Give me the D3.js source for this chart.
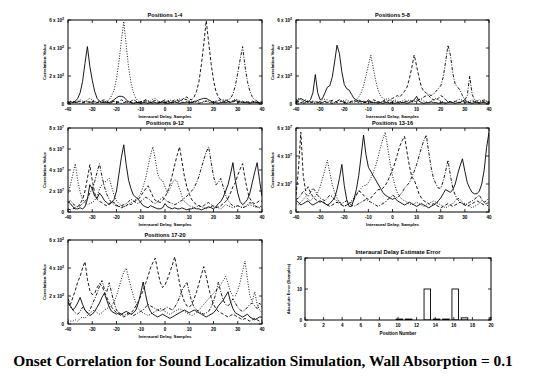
<!DOCTYPE html>
<html><head><meta charset="utf-8">
<script src="https://cdn.jsdelivr.net/npm/d3@7"></script>
<style>body{margin:0;background:#fff}svg{display:block}</style>
</head><body><svg id="c" width="537" height="382"></svg>
<script>
// ---------------- DATA ----------------
const lags = d3.range(-40, 41);
const lagTicks = [-40,-30,-20,-10,0,10,20,30,40];
const panelTitles = ["Positions 1-4","Positions 5-8","Positions 9-12","Positions 13-16","Positions 17-20"];
const panelYMax = [6,6,8,6,6];
const panelYTicks = [[0,2,4,6],[0,2,4,6],[0,2,4,6,8],[0,2,4,6],[0,2,4,6]];
const panelExp = ["2","2","7","7","2"];
const seriesNames = ["solid","dotted","dashed","dashdot"];

const p1Solid = [0.1,0.15,0.1,0.2, 0.4,0.8,1.6,2.9,4.1,2.7,1.7,0.9,0.4,0.2, 0.1,0.15,0.1,0.1,0.2,0.3, 0.45,0.55,0.55,0.5,0.3,
 0.15,0.1,0.05,0.1,0.1,0.05,0.1,0.1,0.05,0.1,0.15,0.1,0.05,0.1,0.1,
 0.1,0.05,0.1,0.1,0.15,0.1,0.05,0.1,0.1,0.15,0.1,0.1,0.2,0.2,0.3,0.35, 0.4,0.4,0.3,0.2,0.1,
 0.1,0.05,0.1,0.1,0.1,0.15,0.1,0.2,0.25,0.2,0.15,0.1,0.1,0.1,0.05,0.1,0.1,0.1,0.05,0.1];
const p1Dotted = [0.1,0.2,0.15,0.1,0.2,0.3,0.2,0.15,0.3,0.4,0.3,0.2,0.1,0.15,0.2,0.15,0.2,
 0.3,0.6,1.0,1.8,3.0,4.5,5.9,4.2,2.6,1.5,0.8,0.4,0.2,
 0.15,0.2,0.3,0.25,0.2,0.35,0.4,0.25,0.15,0.2,0.1,0.2,0.3,0.2,0.15,0.3,0.35,0.2,0.1,0.15,0.2,
 0.15,0.1,0.2,0.15,0.1,0.2,0.25,0.2,0.1,0.15,0.2,0.1,0.15,0.2,0.3,0.2,0.15,0.25,0.35,0.3,0.2,0.1,0.15,0.2,0.1,0.15,0.2,0.1,0.15,0.1];
const p1Dashed = [0.1,0.15,0.2,0.1,0.15,0.2,0.1,0.2,0.15,0.1, 0.2,0.15,0.1,0.2,0.25,0.3,0.2,0.1,0.15,0.2,
 0.1,0.2,0.3,0.2,0.15,0.1,0.2,0.3,0.2,0.1, 0.15,0.2,0.3,0.2,0.1,0.2,0.25,0.15,0.1,0.2,
 0.3,0.2,0.15,0.2,0.3,0.25,0.2,0.3,0.45,0.5, 0.35,
 0.3,0.5,0.9,1.6,2.8,4.3,5.95,4.4,2.9,1.7,0.9,0.5,0.3,
 0.2,0.15,0.2,0.1,0.15,0.2,0.1,0.15,0.2,0.1,0.15,0.1,0.2,0.15,0.1,0.1,0.15];
const p1DashDot = [0.1,0.05,0.1,0.15,0.1,0.05,0.1,0.1,0.2,0.15, 0.1,0.05,0.1,0.1,0.15,0.1,0.1,0.05,0.1,0.2,
 0.15,0.1,0.05,0.1,0.15,0.2,0.1,0.05,0.1,0.1, 0.15,0.1,0.2,0.15,0.1,0.05,0.1,0.1,0.15,0.2,
 0.1,0.1,0.05,0.1,0.15,0.1,0.2,0.3,0.35,0.3, 0.2,0.1,0.15,0.1,0.05,0.1,0.15,0.2,0.1,0.1,
 0.15,0.2,0.25,0.3,0.3,0.25,0.3,
 0.4,0.7,1.3,2.2,3.2,4.1,2.7,1.6,0.9,0.5,0.3, 0.2,0.1,0.15];

const p2Solid = [0.2,0.3,0.4,0.3,0.2,0.15, 0.3,0.8,2.1,0.8,0.3,
 0.4,0.8,1.2,1.3,1.9,3.0,4.2,3.6,2.3,1.4,1.1,1.0,0.7,0.4,
 0.3,0.2,0.15,0.2,0.1,0.3,0.15,0.1,0.1,0.15,0.1,0.05,0.1,0.1,0.05,
 0.1,0.05,0.1,0.15,0.1,0.1,0.05,0.1,0.2,0.3, 0.55,0.2,0.1,0.05,0.1,0.1,0.15,0.1,0.1,0.05,
 0.1,0.1,0.05,0.1,0.15,0.1,0.05,0.1,0.1,0.2, 0.3,0.15,0.1,0.05,0.1,0.1,0.05,0.1,0.1,0.05, 0.1];
const p2Dotted = [0.3,0.4,0.3,0.2,0.3,0.2,0.15,0.2,0.1,0.15,0.2,0.3,0.35,0.3,0.2,0.15,0.1,0.2,0.3,0.2,0.25,0.3,0.2,0.1,0.2,0.3,
 0.5,0.8,1.3,2.0,2.8,3.5,2.6,1.7,1.0,0.6,0.4,
 0.3,0.4,0.3,0.2,0.3,0.2,0.15,0.2,0.3,0.2, 0.15,0.1,0.2,0.3,0.35,0.3,0.2,0.15,0.1,0.2,
 0.3,0.4,0.3,0.2,0.15,0.1,0.2,0.15,0.1,0.2, 0.3,0.35,0.25,0.15,0.1,0.2,0.3,0.2,0.15,0.1, 0.2,0.3,0.2,0.15];
const p2Dashed = [0.15,0.2,0.1,0.15,0.2,0.1,0.1,0.15,0.2,0.1, 0.05,0.1,0.15,0.1,0.2,0.25,0.2,0.1,0.15,0.2,
 0.1,0.05,0.1,0.15,0.1,0.2,0.3,0.2,0.1,0.15, 0.1,0.2,0.3,0.25,0.15,0.1,0.2,0.3,0.2,0.3, 0.4,
 0.5,0.6,0.5,0.7,0.9,1.2,1.8,2.6,3.5,2.7,1.9,1.2,0.9,0.8,0.6,0.4,0.3,
 0.3,0.4,0.6,0.5,0.3,0.2,0.15,0.1,0.2,0.15,0.1,0.2,0.1,0.15,0.1,0.2,0.15,0.1,0.1,0.2,0.15,0.1,0.15];
const p2DashDot = [0.1,0.15,0.1,0.05,0.1,0.2,0.15,0.1,0.05,0.1, 0.15,0.1,0.2,0.15,0.1,0.05,0.1,0.2,0.3,0.2,
 0.1,0.15,0.1,0.2,0.25,0.2,0.1,0.05,0.1,0.15, 0.2,0.1,0.15,0.1,0.05,0.1,0.2,0.15,0.1,0.1,
 0.15,0.2,0.1,0.05,0.1,0.15,0.2,0.3,0.2,0.15, 0.2,0.3,0.4,0.5,0.6,
 0.7,0.6,0.7,0.9,1.1,1.3,1.9,3.0,4.2,3.5,2.2,1.4,1.2,1.0,0.6,
 0.3,0.6,2.0,0.7,0.3,0.2,0.3,0.2,0.3,0.2,0.15];

const p3Solid = [1.0,0.8,0.5,0.3,0.3,0.4,0.3,0.5, 1.2,2.6,2.2,1.5,1.3, 1.8,1.5,1.1,0.9,0.7,0.9,1.2,
 2.0,3.6,5.2,6.4,4.5,3.0,2.2,1.6, 1.4,1.2,0.9,0.6,0.5,0.4,0.6,0.5,0.4,0.3,0.3,0.4,
 0.8,0.5,0.4,0.3,0.4,0.3,0.3,0.4,0.3,0.2, 0.3,0.3,0.4,0.3,0.3,0.2,0.3,0.4,0.5,0.4, 0.3,0.5,0.8,1.0,1.4,
 2.0,2.6,3.6,4.7,3.0,1.8,1.0, 0.7,0.9,1.2,1.8,2.8,3.8,4.7,3.0,1.5];
const p3Dotted = [1.8,2.6,3.6,4.6,3.0,1.9,1.2,0.9,0.7,
 0.8,0.9,1.1,1.5,2.2,2.6,2.8,3.0,3.2,2.4,1.6,1.1,0.8,
 0.6,0.5,0.6,0.7,0.9,1.0,1.2,
 1.4,1.8,2.4,3.2,4.3,5.4,6.2,5.0,3.6,3.1,3.0,2.4,
 1.8,2.2,2.8,3.1,2.9,2.2,1.5,1.0,0.8,0.6,
 0.5,0.4,0.5,0.6,0.5,0.4,0.3,0.4,0.5,0.6, 0.5,0.4,0.3,0.5,0.7,0.6,0.5,0.4,0.5,0.6, 0.5,0.4,0.5,0.6,0.7,0.6,0.5,0.4,0.5,0.6];
const p3Dashed = [0.3,0.2,0.3,0.4,0.5,0.8,1.2, 2.0,3.2,4.5,3.0,1.8,1.2,
 1.0,0.9,0.7,0.6,0.8,1.0,0.9,0.7,0.5,0.4,0.5,0.6,0.8,0.7,0.9,1.1,
 1.2,1.5,1.9,2.2,2.5,2.0,1.5,1.1,1.0,
 0.9,1.1,1.4,1.9,2.6,3.5,4.5,5.4,6.2,4.8,3.4,2.4,1.7,1.2,0.9,
 0.7,0.6,0.5,0.6,0.8,0.9,0.7,0.5,0.4,0.5,0.6,0.8,1.0,1.3,1.8,2.4,
 2.8,3.5,4.1,4.6,3.2,2.0,1.3,0.9,0.8,0.9,1.1,1.0];
const p3DashDot = [0.9,1.1,0.8,0.6,0.5,0.6,0.8,1.0,1.3,1.8,
 2.2,2.9,3.8,4.6,3.4,2.4,1.7,1.2,0.9,
 0.7,0.6,0.5,0.6,0.7,0.8,1.0,1.2,1.1,0.9, 0.8,1.0,1.2,1.4,1.3,1.1,0.9,0.8,1.0,1.2,
 1.4,1.2,1.0,0.9,0.8,0.7,0.8,1.0,1.1,1.3, 1.5,1.8,
 2.0,2.3,2.8,3.4,4.2,5.0,5.7,6.2,4.8,3.4,2.6,2.8,3.2,2.4,1.6,
 1.1,0.8,0.6,0.5,0.6,0.5,0.4,0.5,0.7,0.9,0.8,0.6,0.5,0.4,0.5];

const p4Solid = [0.8,0.7,0.5,0.6,0.7,0.8,0.6,0.5,0.6,0.7,0.8,0.7,0.6,0.5,0.6,0.8,
 1.0,1.6,2.4,3.4,1.9,0.9,0.4,
 0.4,0.9,1.6,2.6,4.0,5.5,4.1,3.2,2.9,2.6,2.3,2.0,1.7,
 1.4,1.2,1.1,1.0,0.9,1.0,0.8,0.7,0.6,0.5, 0.6,0.7,0.6,0.5,0.4,0.5,0.6,0.5,0.4,0.3, 0.4,0.5,0.6,0.8,1.0,1.3,1.6,
 1.5,1.4,1.6,2.0,2.7,3.3,3.8,2.9,2.1,1.7,1.4,
 1.3,1.3,1.5,2.0,3.0,4.6,5.7];
const p4Dotted = [0.6,0.5,0.7,0.9,1.1,0.9,0.8,1.0,
 1.1,1.4,1.8,2.4,3.0,3.7,2.8,2.0,1.4,1.0,0.7,
 0.5,0.4,0.5,0.6,0.8,1.0,1.3,1.5,1.7,1.9,
 1.9,2.1,2.4,2.8,3.3,3.9,4.6,5.2,5.7,4.6,3.5,2.6,1.9,1.4,1.1,0.9,0.8,
 0.7,0.6,0.5,0.6,0.7,0.6,0.5,0.4,0.5,0.6, 0.7,0.8,0.7,0.6,0.5,0.4,0.3,0.4,0.5,0.6,
 0.8,1.0,0.9,0.7,0.6,0.5,0.4,0.3,0.4,0.5, 0.6,0.8,0.7,0.5,0.4];
const p4Dashed = [1.2,3.0,5.7,2.6,1.5,1.8,1.4,
 1.1,0.9,0.8,0.7,0.8,0.6,0.5,0.4,0.5,0.6, 0.7,0.6,0.5,0.4,0.5,0.6,0.7,0.9,1.2,1.5, 1.4,1.2,1.0,0.9,1.0,1.2,1.4,1.6,
 1.6,1.7,1.9,2.2,2.6,3.0,3.5,4.1,4.7,5.1,5.4,4.3,3.3,2.5,2.3,1.8,1.3,1.0,0.8,
 0.7,0.6,0.5,0.6,0.5,0.4,0.3,0.4,0.5,0.6, 0.5,0.4,0.5,0.6,0.7,0.6,0.5,0.4,0.5,0.6, 0.7,0.8,0.7,0.6,0.5,0.6,0.7];
const p4DashDot = [0.9,1.0,1.2,1.5,1.3,1.1,1.4,1.7,1.5,1.2, 1.0,0.9,0.8,1.0,1.2,1.1,0.9,0.8,0.7,0.6,
 0.7,0.8,0.6,0.5,0.4,0.5,0.6,0.7,0.8,0.9, 0.8,0.7,0.6,0.5,0.4,0.5,0.6,0.7,0.9,1.0, 1.2,1.1,1.0,1.2,1.4,1.7,
 1.9,2.1,2.5,2.9,3.4,4.0,4.6,5.1,5.5,4.3,3.2,2.4,2.0,1.7,
 1.7,2.2,2.9,3.7,2.6,1.7,1.2,
 0.9,0.7,0.6,0.5,0.6,0.7,0.8,0.9,1.1,1.2,0.9,0.7,0.8,1.0];

const p5Solid = [1.6,1.3,1.0,1.2,1.5,1.9,1.4, 1.0,0.8,0.6,0.7,0.9,1.2,1.5, 1.9,2.2,1.7,1.2,0.9,
 0.8,0.7,0.8,0.7,0.8,0.9,0.8,0.7,0.8, 1.0,1.5,2.2,3.0,2.1,1.3,0.9,
 0.7,0.6,0.5,0.6,0.7,0.6,0.5,0.4,0.5,0.6, 0.7,0.8,0.9,1.0,0.9,0.8,0.9,1.0,0.9,0.8, 0.7,0.6,0.5,0.6,0.7,0.8,1.0,
 1.3,1.5,1.7,2.0,2.3,1.6,1.1,0.8, 0.7,0.6,0.5,0.6,0.7,0.5,0.4,0.3,0.4,0.5,0.5];
const p5Dotted = [0.3,0.2,0.2,0.3,0.2,0.4,0.5,0.4,0.6,0.8,0.9,1.0,0.8,0.7,0.8,1.0,1.1,1.2,1.3,1.6,2.0,
 2.6,3.2,3.7,4.0,3.3,2.6,2.0,1.5,1.1,0.9,
 0.8,0.7,0.6,0.7,0.8,0.9,1.0,1.1,1.0,0.9, 0.8,0.7,0.8,0.9,1.0,1.1,1.0,0.9,0.8,0.7, 0.6,0.7,0.8,1.0,1.2,1.4,1.6,1.8,2.0,2.2,
 2.4,2.6,2.8,3.1,3.4,2.9,2.3,2.0,
 2.0,2.4,3.0,3.8,4.5,3.2,2.0,1.6,2.3,1.4,1.0,0.8];
const p5Dashed = [1.8,1.4,1.9,2.4,3.0, 3.4,4.0,4.45,3.2,2.4,2.1,2.2,
 2.6,2.9,2.7,2.3,1.9,1.5,1.2,1.0,0.8,0.7, 0.6,0.5,0.6,0.7,0.8,1.0,1.3,1.6,2.0,2.4,
 2.9,3.4,4.0,4.4,4.7,3.8,3.0,2.6,2.8,3.2,3.7,4.2,4.8,3.9,2.9,2.1,1.6,
 1.3,1.2,1.4,1.8,2.3,2.9,3.5,4.1,3.4,2.6, 1.9,1.4,1.1,0.9,0.8,0.7,0.6,0.5,0.6,0.7, 0.6,0.5,0.4,0.3,0.4,0.3,0.2,0.3,0.4,0.3, 0.2,0.3];
const p5DashDot = [1.5,1.2,1.0,0.8,0.7,0.9,1.2,1.0,0.8,1.0,1.4,
 1.8,2.2,2.7,3.1,2.5,2.3,2.95,2.2,1.5,1.0,
 0.8,0.7,0.6,0.7,0.8,0.7,0.6,0.7,0.8,0.9, 1.0,1.2,1.4,1.3,1.2,1.1,1.0,0.9,1.0,1.1, 1.2,1.1,1.0,1.2,
 1.5,1.9,2.4,2.7,3.0,2.3,1.6,1.2,1.0,
 0.9,0.8,0.7,0.8,0.9,1.2,1.6,2.2,3.0,2.3, 1.7,1.4,1.3,1.5,1.8,1.5,1.2,1.0,0.9,1.0, 1.2,1.4,1.5,1.3,1.1,1.5,1.2];

const panelSeries = [
  [p1Solid,p1Dotted,p1Dashed,p1DashDot],
  [p2Solid,p2Dotted,p2Dashed,p2DashDot],
  [p3Solid,p3Dotted,p3Dashed,p3DashDot],
  [p4Solid,p4Dotted,p4Dashed,p4DashDot],
  [p5Solid,p5Dotted,p5Dashed,p5DashDot]
];

const positions = [1,2,3,4,5,6,7,8,9,10,11,12,13,14,15,16,17,18,19,20];
const delayErrors = [0,0,0,0,0,0,0,0,0,0.3,0.3,0,10,0.3,0.3,10,0.7,0,0,0.7];
const posTicks = [0,2,4,6,8,10,12,14,16,18,20];
const errTicks = [0,10,20];

const mainTitle = "Onset Correlation for Sound Localization Simulation, Wall Absorption = 0.1";

// ---------------- LAYOUT / STYLE ----------------
const layouts = [
  {x0:68,x1:262,y0:20,y1:104},
  {x0:296,x1:489,y0:20,y1:104},
  {x0:68,x1:262,y0:128,y1:212},
  {x0:296,x1:489,y0:128,y1:212},
  {x0:68,x1:262,y0:240,y1:324}
];
const barLayout = {x0:305,x1:491,y0:258,y1:320};
const dashes = {solid:null, dotted:"1,1.6", dashed:"3.2,2", dashdot:"3.2,1.5,1,1.5"};
const SANS = "'Liberation Sans', Arial, sans-serif";

const svg = d3.select("#c");
svg.append("rect").attr("width",537).attr("height",382).attr("fill","#fff");

function frameAndTicks(g, x, y, xt, yt, L) {
  const tl = 3;
  // x ticks bottom and top (inward)
  g.append("g").selectAll("line").data(xt).join("line")
    .attr("x1", d=>x(d)).attr("x2", d=>x(d)).attr("y1", L.y1).attr("y2", L.y1 - tl)
    .attr("stroke","#000").attr("stroke-width",0.8);
  g.append("g").selectAll("line").data(xt).join("line")
    .attr("x1", d=>x(d)).attr("x2", d=>x(d)).attr("y1", L.y0).attr("y2", L.y0 + tl)
    .attr("stroke","#000").attr("stroke-width",0.8);
  g.append("g").selectAll("line").data(yt).join("line")
    .attr("x1", L.x0).attr("x2", L.x0 + tl).attr("y1", d=>y(d)).attr("y2", d=>y(d))
    .attr("stroke","#000").attr("stroke-width",0.8);
  g.append("g").selectAll("line").data(yt).join("line")
    .attr("x1", L.x1).attr("x2", L.x1 - tl).attr("y1", d=>y(d)).attr("y2", d=>y(d))
    .attr("stroke","#000").attr("stroke-width",0.8);
  g.append("rect").attr("x",L.x0).attr("y",L.y0).attr("width",L.x1-L.x0).attr("height",L.y1-L.y0)
    .attr("fill","none").attr("stroke","#000").attr("stroke-width",1);
}

panelSeries.forEach((series, pi) => {
  const L = layouts[pi];
  const g = svg.append("g");
  const x = d3.scaleLinear().domain([-40,40]).range([L.x0, L.x1]);
  const y = d3.scaleLinear().domain([0, panelYMax[pi]]).range([L.y1, L.y0]);
  const clipId = "clip" + pi;
  svg.append("clipPath").attr("id", clipId).append("rect")
    .attr("x", L.x0).attr("y", L.y0 - 1).attr("width", L.x1 - L.x0).attr("height", L.y1 - L.y0 + 1);
  const line = d3.line().x(d=>x(d[0])).y(d=>y(d[1]));
  series.forEach((arr, si) => {
    const pts = arr.map((v,i)=>[lags[i], v]);
    g.append("path").attr("d", line(pts)).attr("fill","none").attr("stroke","#000")
      .attr("stroke-width",0.9).attr("clip-path", `url(#${clipId})`)
      .attr("stroke-dasharray", dashes[seriesNames[si]]);
  });
  frameAndTicks(g, x, y, lagTicks, panelYTicks[pi], L);
  // x tick labels
  g.append("g").selectAll("text").data(lagTicks).join("text")
    .attr("x", d=>x(d)).attr("y", L.y1 + 6.5).attr("text-anchor","middle")
    .attr("font-family", SANS).attr("font-size", 4.6).attr("font-weight","bold")
    .text(d=>d);
  // y tick labels
  const yl = g.append("g").selectAll("text").data(panelYTicks[pi]).join("text")
    .attr("x", L.x0 - 4).attr("y", d=>y(d) + 1.8).attr("text-anchor","end")
    .attr("font-family", SANS).attr("font-size", 4.6).attr("font-weight","bold");
  yl.each(function(d){
    const t = d3.select(this);
    if (d === 0) { t.text("0"); return; }
    t.append("tspan").text(d + " x 10");
    t.append("tspan").attr("dy",-2).attr("font-size",3.6).text(panelExp[pi]);
  });
  // titles
  g.append("text").attr("x",(L.x0+L.x1)/2).attr("y",L.y0 - 3.5).attr("text-anchor","middle")
    .attr("font-family", SANS).attr("font-size",5.6).attr("font-weight","bold").text(panelTitles[pi]);
  g.append("text").attr("x",(L.x0+L.x1)/2).attr("y",L.y1 + 13.5).attr("text-anchor","middle")
    .attr("font-family", SANS).attr("font-size",4.4).attr("font-weight","bold").text("Interaural Delay, Samples");
  g.append("text").attr("transform",`translate(${L.x0-22},${(L.y0+L.y1)/2}) rotate(-90)`)
    .attr("text-anchor","middle").attr("font-family", SANS).attr("font-size",4.4).attr("font-weight","bold")
    .text("Correlation Value");
});

// bar panel
{
  const L = barLayout;
  const g = svg.append("g");
  const x = d3.scaleLinear().domain([0,20]).range([L.x0, L.x1]);
  const y = d3.scaleLinear().domain([0,20]).range([L.y1, L.y0]);
  svg.append("clipPath").attr("id","clipBar").append("rect")
    .attr("x",L.x0).attr("y",L.y0).attr("width",L.x1-L.x0).attr("height",L.y1-L.y0);
  g.append("g").attr("clip-path","url(#clipBar)").selectAll("rect")
    .data(positions.map((p,i)=>({p, v: delayErrors[i]})).filter(d=>d.v>0)).join("rect")
    .attr("x", d=>x(d.p - 0.2)).attr("width", d=>x(d.p + 0.5) - x(d.p - 0.2))
    .attr("y", d=>y(d.v)).attr("height", d=>y(0) - y(d.v))
    .attr("fill","#fff").attr("stroke","#000").attr("stroke-width",0.9);
  frameAndTicks(g, x, y, posTicks, errTicks, L);
  g.append("g").selectAll("text").data(posTicks).join("text")
    .attr("x", d=>x(d)).attr("y", L.y1 + 6.5).attr("text-anchor","middle")
    .attr("font-family", SANS).attr("font-size", 4.6).attr("font-weight","bold").text(d=>d);
  g.append("g").selectAll("text").data(errTicks).join("text")
    .attr("x", L.x0 - 3).attr("y", d=>y(d) + 1.7).attr("text-anchor","end")
    .attr("font-family", SANS).attr("font-size", 4.6).attr("font-weight","bold").text(d=>d);
  g.append("text").attr("x",(L.x0+L.x1)/2).attr("y",L.y0 - 4.5).attr("text-anchor","middle")
    .attr("font-family", SANS).attr("font-size",5.8).attr("font-weight","bold").text("Interaural Delay Estimate Error");
  g.append("text").attr("x",(L.x0+L.x1)/2).attr("y",L.y1 + 14.5).attr("text-anchor","middle")
    .attr("font-family", SANS).attr("font-size",4.6).attr("font-weight","bold").text("Position Number");
  g.append("text").attr("transform",`translate(${L.x0-15},${(L.y0+L.y1)/2}) rotate(-90)`)
    .attr("text-anchor","middle").attr("font-family", SANS).attr("font-size",4.2).attr("font-weight","bold")
    .text("Absolute Error (Samples)");
}

// main title
const mt = svg.append("text").attr("x", 263).attr("y", 366).attr("text-anchor","middle")
  .attr("font-family","'Liberation Serif','Times New Roman',serif").attr("font-weight","bold")
  .attr("font-size", 15.3).text(mainTitle);
const w = mt.node().getComputedTextLength();
if (w > 0) mt.attr("font-size", 15.3 * 500 / w);
</script>
</body></html>
